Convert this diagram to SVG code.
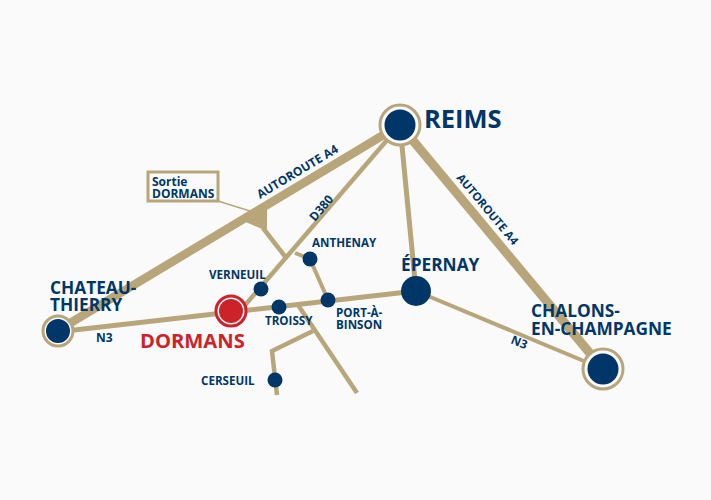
<svg xmlns="http://www.w3.org/2000/svg" width="711" height="500" viewBox="0 0 711 500">
<style>
text{font-family:"Open Sans","Noto Sans","Liberation Sans",sans-serif;font-weight:700;fill:#003768}
.r{fill:none;stroke:#b8a67a;stroke-linejoin:miter}
.n{fill:#003768}
.h{fill:#fafafa;stroke:#b8a67a;stroke-width:3}
.mid{font-size:17.3px}
.sm{font-size:11.6px}
.lab{font-size:12px}
</style>
<rect width="711" height="500" fill="#fafafa"/>
<g id="connectors">
<path class="r" stroke-width="8.5" d="M57 331L400 125"/>
<path class="r" stroke-width="9" d="M400 125L603 369"/>
<path class="r" stroke-width="4.5" d="M234 318L400 125"/>
<path class="r" stroke-width="5" d="M57 332L416 291"/>
<path class="r" stroke-width="5" d="M400 125L416 291"/>
<path class="r" stroke-width="4" d="M416 291L603 369"/>
<path d="M241 220L267 204L267 229L262 229Z" fill="#b8a67a"/>
<path class="r" stroke-width="4.5" d="M263 228L287 259"/>
<path class="r" stroke-width="1.5" d="M218 201L250 211"/>
<path class="r" stroke-width="4" d="M295 253L310 259L328 300"/>
<path class="r" stroke-width="4.5" d="M298 305L357 393"/>
<path class="r" stroke-width="4.5" d="M313 331L272 351L277 395"/>
</g>
<g id="sortie"><rect x="148" y="172" width="70" height="29" fill="#fafafa" stroke="#b8a67a" stroke-width="3"/><text class="lab" x="152" y="186">Sortie</text><text class="lab" x="152" y="198">DORMANS</text></g>
<g id="reims"><circle class="h" cx="400" cy="125" r="20"/><circle class="n" cx="400" cy="125" r="15.5"/><text x="424" y="128" font-size="25.5">REIMS</text></g>
<g id="chateau-thierry"><circle class="h" cx="58" cy="331" r="15"/><circle class="n" cx="58" cy="331" r="12"/><text class="mid" x="50" y="293.500">CHATEAU-</text><text class="mid" x="50" y="311">THIERRY</text></g>
<g id="chalons"><circle class="h" cx="603" cy="369" r="20"/><circle class="n" cx="603" cy="369" r="15.5"/><text class="mid" x="531" y="317">CHALONS-</text><text class="mid" x="531" y="335">EN-CHAMPAGNE</text></g>
<g id="epernay"><circle class="n" cx="416" cy="291" r="15"/><text class="mid" x="401" y="271">ÉPERNAY</text></g>
<g id="dormans"><circle cx="231" cy="311" r="15" fill="#fafafa" stroke="#cc2229" stroke-width="3"/><circle cx="231" cy="311" r="12" fill="#cc2229"/><text x="140" y="348" font-size="20.2" style="fill:#cc2229">DORMANS</text></g>
<g id="verneuil"><circle class="n" cx="261" cy="289" r="7.5"/><text class="sm" x="209" y="279">VERNEUIL</text></g>
<g id="troissy"><circle class="n" cx="279" cy="307" r="7.5"/><text class="sm" x="265" y="325">TROISSY</text></g>
<g id="port-a-binson"><circle class="n" cx="328" cy="300" r="7.5"/><text class="sm" x="336" y="317">PORT-À-</text><text class="sm" x="336" y="329">BINSON</text></g>
<g id="anthenay"><circle class="n" cx="310" cy="259" r="7.5"/><text class="sm" x="312" y="247">ANTHENAY</text></g>
<g id="cerseuil"><circle class="n" cx="275" cy="380" r="7.5"/><text class="sm" x="201" y="385">CERSEUIL</text></g>
<g id="road-labels">
<text class="lab" transform="translate(260 199) rotate(-31)">AUTOROUTE A4</text>
<text class="lab" style="font-size:11.5px" transform="translate(456 178) rotate(50)">AUTOROUTE A4</text>
<text class="lab" transform="translate(315 222) rotate(-50)">D380</text>
<text class="lab" x="96" y="342">N3</text>
<text class="lab" transform="translate(510 343) rotate(22)">N3</text>
</g>
</svg>
